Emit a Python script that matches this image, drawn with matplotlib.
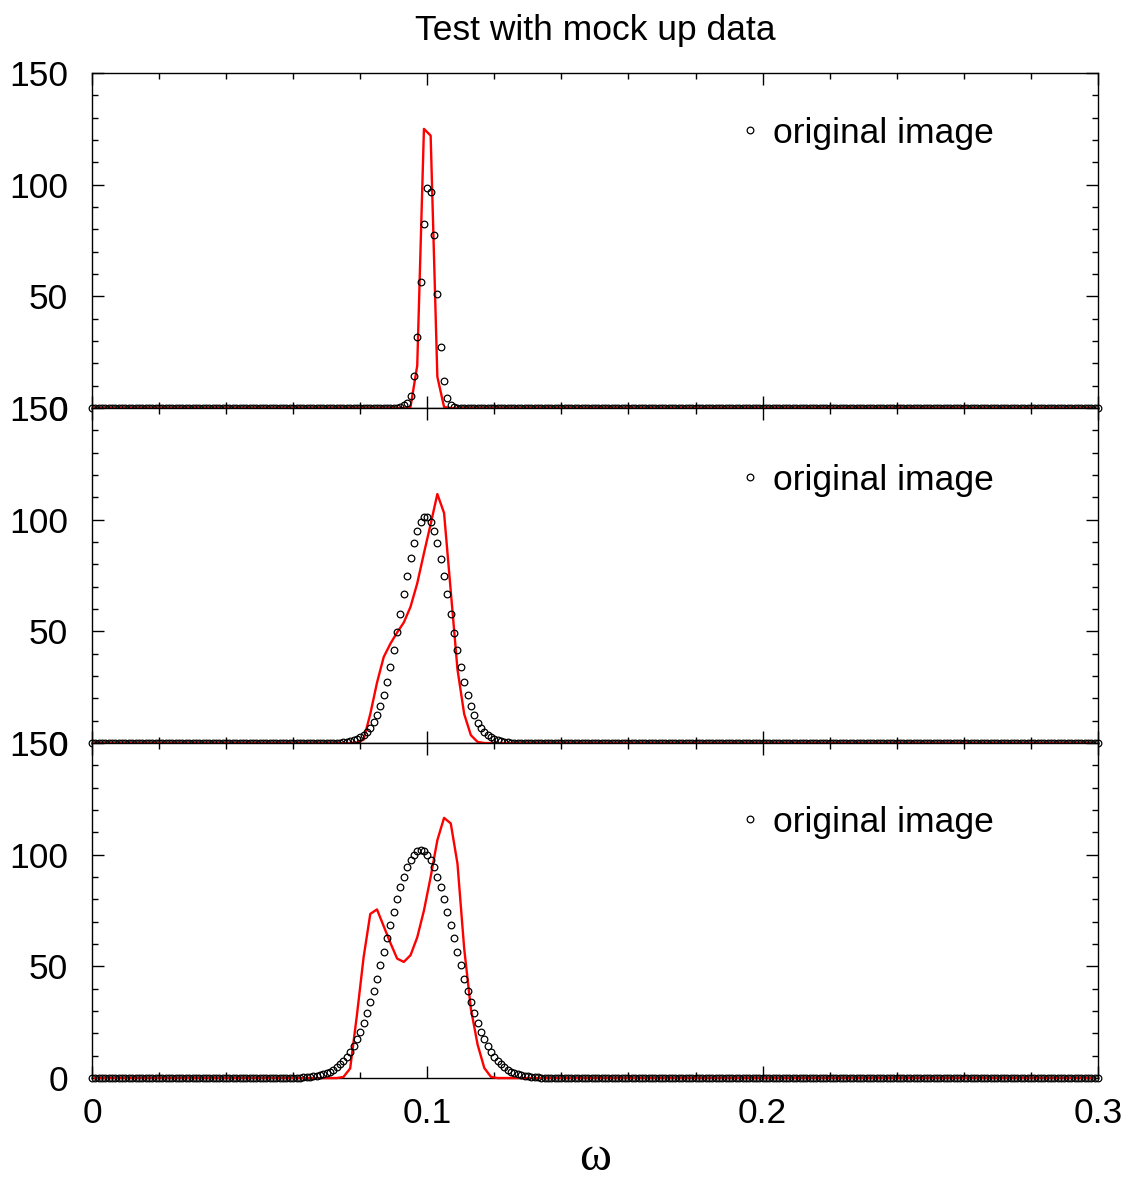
import numpy as np
import matplotlib
matplotlib.use('Agg')
import matplotlib.pyplot as plt
from matplotlib.ticker import MultipleLocator

plt.rcParams['font.family'] = ['Liberation Sans', 'DejaVu Sans']

# sampling grids (omega)
omega_data = np.round(np.arange(301) * 0.001, 3)
omega_fit = np.round(0.001 + np.arange(150) * 0.002, 3)

# original image (open circles), non-zero block: start omega + values
top_data_start = 0.092
top_data = [0.4, 1.3, 2.1, 5.5, 14.5, 31.8, 56.3, 82.5, 98.6, 96.7, 77.6,
            51.2, 27.4, 12.2, 4.6, 1.5, 0.4]

mid_data_start = 0.072
mid_data = [0.1, 0.1, 0.2, 0.3, 0.5, 0.8, 1.2, 1.8, 2.5, 3.4, 4.8, 6.7, 9.3,
            12.6, 16.7, 21.6, 27.4, 34.0, 41.6, 49.6, 58.0, 66.7, 75.0, 83.0,
            89.7, 94.9, 99.0, 101.0, 101.0, 99.0, 94.9, 89.7, 82.5, 74.8,
            66.6, 57.8, 49.4, 41.5, 33.9, 27.3, 21.5, 16.6, 12.4, 9.1, 6.6,
            4.8, 3.4, 2.5, 1.8, 1.2, 0.8, 0.5, 0.3, 0.2, 0.1, 0.1]

bot_data_start = 0.060
bot_data = [0.08, 0.12, 0.17, 0.25, 0.35, 0.5, 0.7, 0.9, 1.2, 1.7, 2.2, 2.9,
            3.7, 4.8, 6.1, 7.6, 9.5, 11.7, 14.4, 17.4, 20.8, 24.7, 29.1, 33.9,
            39.0, 44.5, 50.4, 56.4, 62.5, 68.6, 74.5, 80.2, 85.5, 90.2, 94.3,
            97.6, 100.0, 101.5, 102.0, 101.5, 100.0, 97.6, 94.3, 90.2, 85.5,
            80.2, 74.5, 68.6, 62.5, 56.4, 50.4, 44.5, 39.0, 33.9, 29.1, 24.7,
            20.8, 17.4, 14.4, 11.7, 9.5, 7.6, 6.1, 4.8, 3.7, 2.9, 2.2, 1.7,
            1.2, 0.9, 0.7, 0.5, 0.35, 0.25, 0.17, 0.12, 0.08]

# reconstruction (red line), non-zero block on the 0.002 grid
top_fit_start = 0.093
top_fit = [0, 0.5, 19, 125, 122, 14, 0.5, 0]

mid_fit_start = 0.077
mid_fit = [0, 0.2, 1.5, 13, 27, 38.5, 44.5, 49.5, 54, 61, 71.5, 85, 98,
           111.5, 103, 68, 33, 13, 3.5, 0.5, 0]

bot_fit_start = 0.073
bot_fit = [0, 0.5, 4.3, 28, 54, 73.5, 75.5, 68, 60.5, 53.5, 52, 55, 63, 75,
           90, 106.5, 116.5, 114, 96, 58, 31, 15, 4.5, 0.5, 0]

legend_y = [0.821, 0.785, 0.764]

FS = 25.5


def full_series(grid, start, vals):
    y = np.zeros(len(grid))
    i0 = int(np.argmin(np.abs(grid - start)))
    y[i0:i0 + len(vals)] = vals
    return y


def main():
    fig, axes = plt.subplots(3, 1, figsize=(11.31, 11.80), dpi=100, sharex=True)
    fig.subplots_adjust(left=0.0813, right=0.9708, top=0.9381, bottom=0.0864,
                        hspace=0)

    panels = [(top_data_start, top_data, top_fit_start, top_fit),
              (mid_data_start, mid_data, mid_fit_start, mid_fit),
              (bot_data_start, bot_data, bot_fit_start, bot_fit)]

    for i, (ax, (ds, dv, fs, fv)) in enumerate(zip(axes, panels)):
        yd = full_series(omega_data, ds, dv)
        yf = full_series(omega_fit, fs, fv)
        ax.plot(omega_fit, yf, color='#ff0000', lw=1.7, clip_on=False, zorder=3)
        ax.plot(omega_data, yd, ls='none', marker='o', ms=4.8, mfc='none',
                mec='black', mew=0.9, clip_on=False, zorder=4,
                label='original image')
        ax.set_xlim(0, 0.3)
        ax.set_ylim(0, 150)
        ax.xaxis.set_major_locator(MultipleLocator(0.1))
        ax.xaxis.set_minor_locator(MultipleLocator(0.02))
        ax.yaxis.set_major_locator(MultipleLocator(50))
        ax.yaxis.set_minor_locator(MultipleLocator(10))
        ax.tick_params(which='both', direction='in', top=True, right=True,
                       labelsize=FS, width=1.0)
        ax.tick_params(which='major', length=8.5)
        ax.tick_params(which='minor', length=4.3)
        ax.tick_params(axis='y', pad=17)
        ax.tick_params(axis='x', pad=14)
        ax.set_yticks([0, 50, 100, 150])
        ax.set_yticklabels(['0', '50', '100', '150'])
        for s in ax.spines.values():
            s.set_linewidth(1.0)
        ax.legend(loc='center left', bbox_to_anchor=(0.6435, legend_y[i]),
                  frameon=False, fontsize=FS, handlelength=0.6,
                  handletextpad=0.35, borderpad=0, borderaxespad=0)

    axes[2].set_xticks([0, 0.1, 0.2, 0.3])
    axes[2].set_xticklabels(['0', '0.1', '0.2', '0.3'])
    axes[0].set_title('Test with mock up data', fontsize=FS, pad=24)
    axes[2].set_xlabel('ω', fontsize=35, family=['Liberation Serif', 'DejaVu Serif'],
                       labelpad=4)

    fig.savefig('out.png', dpi=100)


if __name__ == "__main__":
    main()
